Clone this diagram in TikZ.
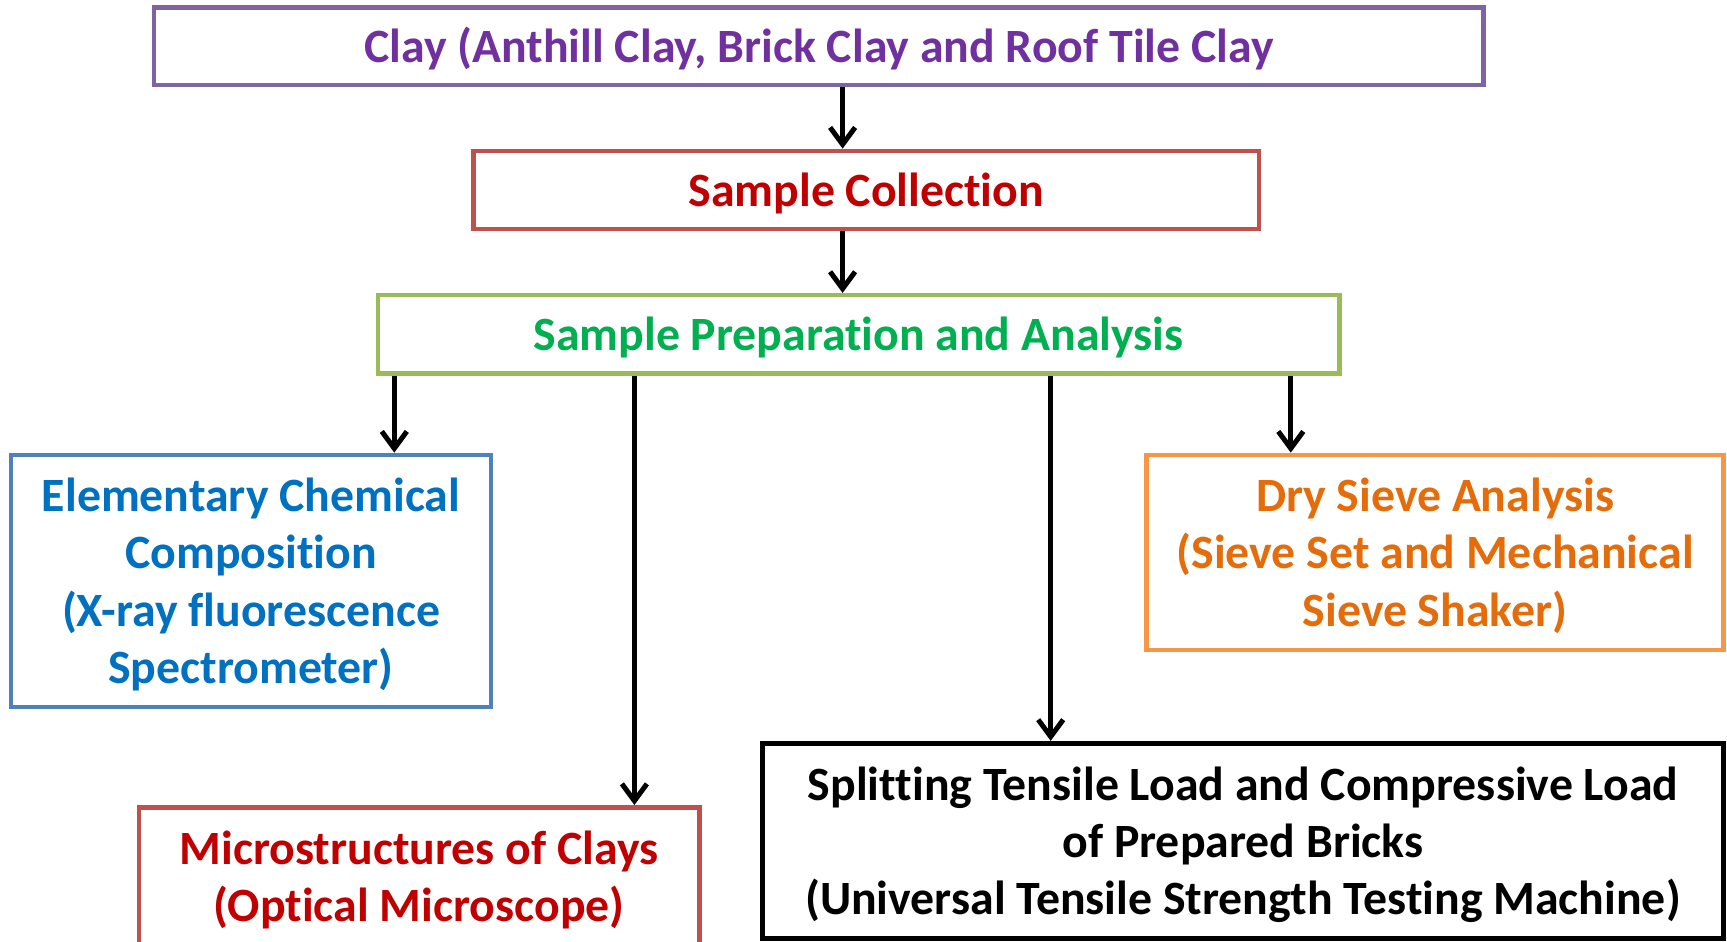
\documentclass[tikz,border=0pt]{standalone}
\usepackage{fontspec}
\setmainfont{Carlito}[Ligatures=NoCommon]
\usetikzlibrary{arrows.meta}
\definecolor{purpleB}{HTML}{8064A2}
\definecolor{purpleT}{HTML}{7030A0}
\definecolor{redB}{HTML}{C0504D}
\definecolor{redT}{HTML}{C00000}
\definecolor{greenB}{HTML}{9BBB59}
\definecolor{greenT}{HTML}{00B050}
\definecolor{blueB}{HTML}{4F81BD}
\definecolor{blueT}{HTML}{0070C0}
\definecolor{orangeB}{HTML}{F79646}
\definecolor{orangeT}{HTML}{E46C0A}
\newcommand{\tstr}{\rule{0pt}{46pt}}
\newcommand{\bstr}{\rule[-13pt]{0pt}{13pt}}
\begin{document}
\begin{tikzpicture}[x=1pt,y=-1pt,
  box/.style={draw, line width=4.5pt, rectangle, inner sep=0pt, align=center,
    font=\fontsize{47.8}{57.3}\selectfont\bfseries},
  arr/.style={line width=5pt, -{Straight Barb[length=17pt,width=25pt]}}]
\useasboundingbox (0,0) rectangle (1727,942);
\clip (0,0) rectangle (1727,942);
\fill[white] (0,0) rectangle (1727,942);

\node[box, draw=purpleB, text=purpleT, minimum width=1329.4pt, minimum height=77.1pt]
  (clay) at (818.9,46.25) {\tstr Clay (Anthill Clay, Brick Clay and Roof Tile Clay\bstr};
\node[box, draw=redB, text=redT, minimum width=785.3pt, minimum height=78.2pt]
  (coll) at (866.25,190) {\tstr Sample Collection\bstr};
\node[box, draw=greenB, text=greenT, minimum width=961.5pt, minimum height=78.2pt]
  (prep) at (858.55,334.3) {\tstr Sample Preparation and Analysis\bstr};
\node[box, draw=blueB, text=blueT, minimum width=480.2pt, minimum height=252.2pt]
  (chem) at (251.1,581) {\tstr Elementary Chemical\\Composition\\(X-ray fluorescence\\Spectrometer)\bstr};
\node[box, draw=orangeB, text=orangeT, minimum width=577.1pt, minimum height=194.9pt]
  (sieve) at (1435.15,552.35) {\tstr Dry Sieve Analysis\\(Sieve Set and Mechanical\\Sieve Shaker)\bstr};
\node[box, draw=redB, text=redT, minimum width=560.6pt, minimum height=138.8pt]
  (micro) at (419.1,876.7) {\tstr Microstructures of Clays\\(Optical Microscope)\bstr};
\node[box, draw=black, text=black, line width=5pt, minimum width=961.5pt, minimum height=195pt]
  (load) at (1242.95,840.9) {\tstr Splitting Tensile Load and Compressive Load\\of Prepared Bricks\\(Universal Tensile Strength Testing Machine)\bstr};

\coordinate (xa) at (842.6,0);
\coordinate (xb) at (394.3,0);
\coordinate (xc) at (634.4,0);
\coordinate (xd) at (1050.7,0);
\coordinate (xe) at (1290.8,0);

\draw[arr] (clay.south -| xa) -- (coll.north -| xa);
\draw[arr] (coll.south -| xa) -- (prep.north -| xa);
\draw[arr] (prep.south -| xb) -- (chem.north -| xb);
\draw[arr] (prep.south -| xc) -- (micro.north -| xc);
\draw[arr] (prep.south -| xd) -- (load.north -| xd);
\draw[arr] (prep.south -| xe) -- (sieve.north -| xe);
\end{tikzpicture}
\end{document}
